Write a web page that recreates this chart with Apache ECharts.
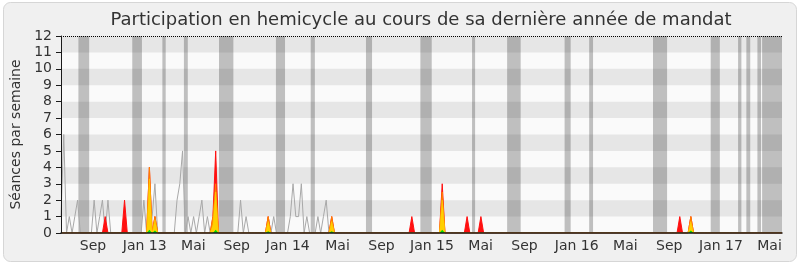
<!DOCTYPE html>
<html>
<head>
<meta charset="utf-8">
<script src="https://cdn.jsdelivr.net/npm/echarts@6/dist/echarts.min.js"></script>
<style>
  html, body { margin: 0; padding: 0; background: #ffffff; }
  #chart { width: 800px; height: 267px; }
</style>
</head>
<body>
<div id="chart"></div>
<script>
// Weekly timeline of the mandate: week 0 = mid-June 2012, 262 weeks.
const WEEK_COUNT = 262;

// Month labels on the time axis and the week they sit on
const monthLabels = ['Sep', 'Jan 13', 'Mai', 'Sep', 'Jan 14', 'Mai', 'Sep', 'Jan 15', 'Mai', 'Sep', 'Jan 16', 'Mai', 'Sep', 'Jan 17', 'Mai'];
const monthWeeks = [11.6, 30.3, 47.9, 63.6, 82.1, 100.1, 116.0, 134.3, 151.9, 167.8, 186.7, 204.3, 220.2, 238.9, 256.5];

// Parliamentary breaks, [first week, last week]
const vacances = [
  [6.3, 10.2], [25.8, 29.3], [36.7, 37.9], [44.5, 45.9], [57.2, 62.4],
  [77.8, 81.1], [90.4, 91.9], [110.4, 112.6], [130.1, 134.2], [148.8, 149.9],
  [161.5, 166.4], [182.3, 184.5], [191.2, 192.6], [214.3, 219.4], [235.2, 238.5],
  [245.1, 246.3], [248.1, 249.5], [252.1, 253.4], [253.8, 261]
];

// Sessions held in the chamber, per week ([week, count]; other weeks are 0)
const seancesHemicycle = [
  [0, 1], [1, 6], [3, 1], [5, 1], [6, 2],
  [12, 2], [14, 1], [15, 2], [17, 2],
  [30, 2], [33, 1], [34, 3],
  [42, 2], [43, 3], [44, 5], [46, 1], [48, 1], [50, 1], [51, 2], [53, 1],
  [65, 2], [67, 1],
  [77, 1],
  [83, 1], [84, 3], [85, 1], [86, 1], [87, 3], [89, 1],
  [93, 1], [95, 1], [96, 2]
];

// Member's own activity per week
const presences = [
  [16, 1], [23, 2], [32, 4], [34, 1], [55, 1], [56, 5], [75, 1], [98, 1],
  [127, 1], [138, 3], [147, 1], [152, 1], [224, 1], [228, 1]
];
const participations = [
  [32, 4], [34, 1], [55, 1], [56, 3], [75, 1], [98, 1], [138, 2.5], [228, 1]
];
const interventions = [
  [32, 3.3], [34, 0.8], [55, 0.5], [56, 2.5], [75, 0.7], [98, 0.7], [138, 2], [228, 0.7]
];
const questions = [
  [32, 0.2], [34, 0.15], [56, 0.2], [75, 0.1], [98, 0.1], [138, 0.2], [228, 0.15]
];

const Y_MAX = 12;

function weekly(points) {
  const values = new Array(WEEK_COUNT).fill(0);
  points.forEach(([w, v]) => { values[w] = v; });
  return values.map((v, i) => [i, v]);
}

const FONT = 'DejaVu Sans';
const GRID = { left: 61, right: 18, top: 36, bottom: 34 };

// Darker horizontal stripes every other unit, drawn over the break bands
const stripes = [];
for (let y = 1; y < Y_MAX; y += 2) stripes.push([{ yAxis: y }, { yAxis: y + 1 }]);

function areaSeries(name, points, color, z, edge) {
  return {
    name, type: 'line', data: weekly(points), z,
    symbol: 'none', silent: true, animation: false,
    lineStyle: { width: edge, color },
    areaStyle: { color, opacity: 1 }
  };
}

const chart = echarts.init(document.getElementById('chart'), null, { renderer: 'canvas' });

chart.setOption({
  backgroundColor: '#ffffff',
  animation: false,
  graphic: [
    {
      type: 'rect', z: -10, silent: true,
      shape: { x: 3.5, y: 2.5, width: 793, height: 259, r: 7 },
      style: { fill: '#f0f0f0', stroke: '#d6d6d6', lineWidth: 1 }
    },
    {
      type: 'text', z: 10, silent: true,
      x: 421, y: 20,
      style: {
        text: 'Participation en hemicycle au cours de sa dernière année de mandat',
        font: '18px "' + FONT + '"', fill: '#333333',
        align: 'center', verticalAlign: 'middle'
      }
    }
  ],
  grid: {
    left: GRID.left, right: GRID.right, top: GRID.top, bottom: GRID.bottom,
    show: true, backgroundColor: '#fafafa', borderWidth: 0
  },
  xAxis: {
    type: 'value', min: 0, max: WEEK_COUNT - 1, z: 10,
    axisLine: { show: true, onZero: false, lineStyle: { color: '#1a1a1a', width: 1.5 } },
    axisTick: { show: false },
    splitLine: { show: false },
    axisLabel: {
      customValues: monthWeeks,
      formatter: v => monthLabels[monthWeeks.indexOf(v)] || '',
      fontFamily: FONT, fontSize: 14, color: '#333333', margin: 6
    }
  },
  yAxis: {
    type: 'value', min: 0, max: Y_MAX, interval: 1, z: 10,
    name: 'Séances par semaine', nameLocation: 'middle', nameGap: 34, nameRotate: 90,
    nameTextStyle: { fontFamily: FONT, fontSize: 14, color: '#333333' },
    axisLine: { show: true, lineStyle: { color: '#1a1a1a', width: 1 } },
    axisTick: { show: true, length: 5, lineStyle: { color: '#1a1a1a' } },
    splitLine: { show: false },
    axisLabel: { fontFamily: FONT, fontSize: 14, color: '#333333', margin: 9 }
  },
  series: [
    {
      name: 'Séances', type: 'line', data: weekly(seancesHemicycle), z: 3,
      symbol: 'none', silent: true,
      lineStyle: { width: 1, color: '#a8a8a8' },
      markArea: {
        z: 1, silent: true,
        itemStyle: { color: '#bfbfbf' },
        data: vacances.map(([a, b]) => [{ xAxis: a }, { xAxis: b }])
      }
    },
    Object.assign(areaSeries('Présences', presences, '#ff1010', 4, 1), {
      markArea: {
        z: 2, silent: true,
        itemStyle: { color: 'rgba(0,0,0,0.08)' },
        data: stripes
      }
    }),
    areaSeries('Participations', participations, '#ff8000', 5, 1),
    areaSeries('Interventions', interventions, '#ffd000', 6, 0.6),
    Object.assign(areaSeries('Questions', questions, '#00e000', 7, 0), {
      markLine: {
        z: 9, silent: true, symbol: ['none', 'none'],
        label: { show: false },
        lineStyle: { color: '#000000', width: 1, type: [1, 1] },
        data: [{ yAxis: Y_MAX }]
      }
    })
  ]
});
</script>
</body>
</html>
